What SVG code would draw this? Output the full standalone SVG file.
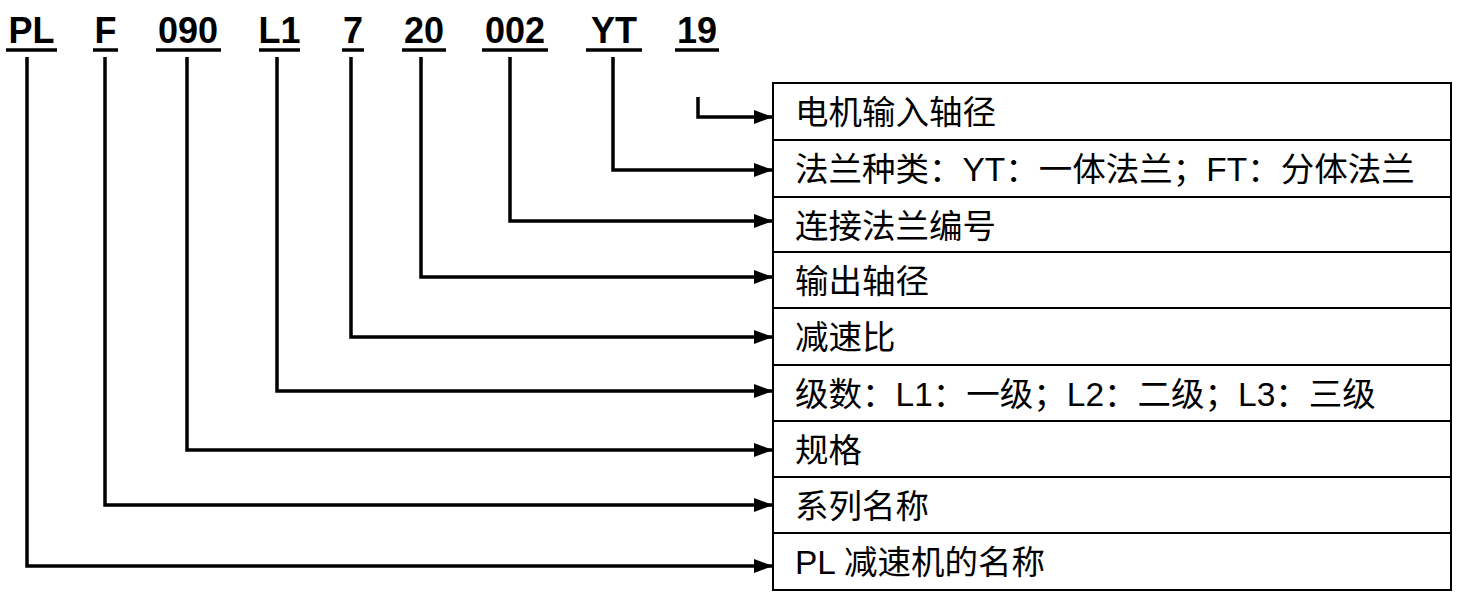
<svg xmlns="http://www.w3.org/2000/svg" width="1478" height="607" viewBox="0 0 1478 607">
<style>
.code{font-family:"Liberation Sans",Arial,sans-serif;font-weight:bold;font-size:36px;fill:#000;text-anchor:middle}
.ul{stroke:#000;stroke-width:3.5}
.lbl{font-family:"Liberation Sans","Noto Sans CJK SC",sans-serif;font-size:33.5px;fill:#000}
.grid{stroke:#000;stroke-width:2;fill:none}
.conn{stroke:#000;stroke-width:3.5;fill:none}
</style>
<defs>
<marker id="ah" markerUnits="userSpaceOnUse" markerWidth="20" markerHeight="14" refX="19" refY="7" orient="auto">
<path d="M0,0 L19,7 L0,14 Z" fill="#000"/>
</marker>
</defs>
<rect width="1478" height="607" fill="#fff"/>
<g id="code">
<text class="code" x="31.5" y="43">PL</text>
<text class="code" x="105.5" y="43">F</text>
<text class="code" x="188" y="43">090</text>
<text class="code" x="279.5" y="43">L1</text>
<text class="code" x="353" y="43">7</text>
<text class="code" x="424" y="43">20</text>
<text class="code" x="515" y="43">002</text>
<text class="code" x="614" y="43">YT</text>
<text class="code" x="697" y="43">19</text>
<line class="ul" x1="6" y1="50" x2="57" y2="50"/>
<line class="ul" x1="93" y1="50" x2="118" y2="50"/>
<line class="ul" x1="156" y1="50" x2="221" y2="50"/>
<line class="ul" x1="259" y1="50" x2="300" y2="50"/>
<line class="ul" x1="342" y1="50" x2="364" y2="50"/>
<line class="ul" x1="402" y1="50" x2="446" y2="50"/>
<line class="ul" x1="482" y1="50" x2="548" y2="50"/>
<line class="ul" x1="586" y1="50" x2="642" y2="50"/>
<line class="ul" x1="675" y1="50" x2="719" y2="50"/>
</g>
<g id="table">
<rect class="grid" x="773" y="83" width="678" height="507"/>
<line class="grid" x1="773" y1="140" x2="1451" y2="140"/>
<line class="grid" x1="773" y1="197" x2="1451" y2="197"/>
<line class="grid" x1="773" y1="252" x2="1451" y2="252"/>
<line class="grid" x1="773" y1="308" x2="1451" y2="308"/>
<line class="grid" x1="773" y1="365" x2="1451" y2="365"/>
<line class="grid" x1="773" y1="421" x2="1451" y2="421"/>
<line class="grid" x1="773" y1="477" x2="1451" y2="477"/>
<line class="grid" x1="773" y1="533" x2="1451" y2="533"/>
</g>
<g id="row-motor-shaft"><text class="lbl" x="795" y="124">电机输入轴径</text></g>
<g id="row-flange-type"><text class="lbl" x="795" y="181">法兰种类：YT：一体法兰；FT：分体法兰</text></g>
<g id="row-flange-no"><text class="lbl" x="795" y="238">连接法兰编号</text></g>
<g id="row-output-shaft"><text class="lbl" x="795" y="293">输出轴径</text></g>
<g id="row-ratio"><text class="lbl" x="795" y="349">减速比</text></g>
<g id="row-stage"><text class="lbl" x="795" y="406">级数：L1：一级；L2：二级；L3：三级</text></g>
<g id="row-size"><text class="lbl" x="795" y="462">规格</text></g>
<g id="row-series"><text class="lbl" x="795" y="518">系列名称</text></g>
<g id="row-name"><text class="lbl" x="795" y="574">PL 减速机的名称</text></g>
<g id="connectors">
<path class="conn" d="M698,97 V117 H773" marker-end="url(#ah)"/>
<path class="conn" d="M613,57 V170 H773" marker-end="url(#ah)"/>
<path class="conn" d="M510,57 V221 H773" marker-end="url(#ah)"/>
<path class="conn" d="M421,57 V277 H773" marker-end="url(#ah)"/>
<path class="conn" d="M351,57 V337 H773" marker-end="url(#ah)"/>
<path class="conn" d="M277,57 V391 H773" marker-end="url(#ah)"/>
<path class="conn" d="M187,57 V450 H773" marker-end="url(#ah)"/>
<path class="conn" d="M105,57 V505 H773" marker-end="url(#ah)"/>
<path class="conn" d="M27,57 V566 H773" marker-end="url(#ah)"/>
</g>
</svg>
